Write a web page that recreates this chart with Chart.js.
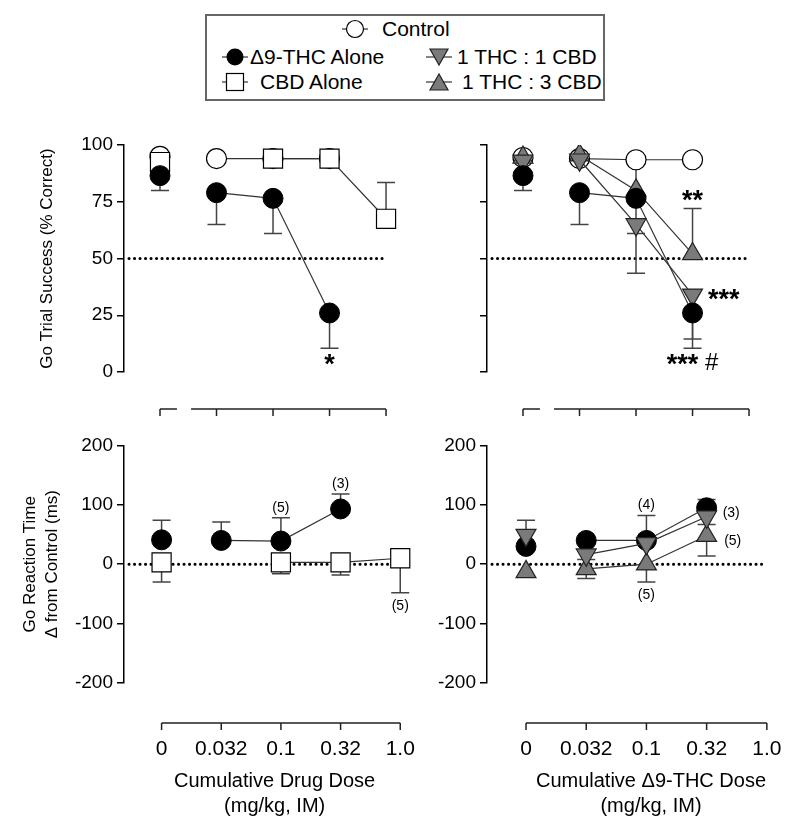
<!DOCTYPE html>
<html>
<head>
<meta charset="utf-8">
<script src="https://cdn.jsdelivr.net/npm/chart.js@4.4.1/dist/chart.umd.min.js"></script>
<style>
body { margin: 0; width: 800px; height: 831px; overflow: hidden; position: relative; background: #fff;
       font-family: "Liberation Sans", Arial, Helvetica, sans-serif; color: #000; }
canvas { position: absolute; }
#legend { position: absolute; left: 205px; top: 14px; width: 400px; height: 87px; box-sizing: border-box; border: 2px solid #666; }
.item { position: absolute; display: flex; align-items: center; font-size: 21px; white-space: nowrap; height: 24px; }
.item svg { flex: none; }
</style>
</head>
<body>

<div id="legend"></div>
<div class="item" style="left:340px;top:17px"><svg width="30" height="24"><line x1="2" y1="12" x2="28" y2="12" stroke="#333" stroke-width="1.2"/><circle cx="15" cy="12" r="8.5" fill="#fff" stroke="#000" stroke-width="1.2"/></svg><span style="margin-left:12px">Control</span></div>
<div class="item" style="left:220px;top:45px"><svg width="30" height="24"><line x1="2" y1="12" x2="28" y2="12" stroke="#333" stroke-width="1.2"/><circle cx="15" cy="12" r="8.5" fill="#000"/></svg><span style="margin-left:0px">Δ9-THC Alone</span></div>
<div class="item" style="left:220px;top:70px"><svg width="30" height="24"><line x1="2" y1="12" x2="28" y2="12" stroke="#333" stroke-width="1.2"/><rect x="6.5" y="3.5" width="17" height="17" fill="#fff" stroke="#000" stroke-width="1.2"/></svg><span style="margin-left:10px">CBD Alone</span></div>
<div class="item" style="left:424px;top:45px"><svg width="30" height="24"><line x1="2" y1="12" x2="28" y2="12" stroke="#333" stroke-width="1.2"/><polygon points="6,4 24,4 15,20" fill="#7a7a7a" stroke="#222" stroke-width="1.2"/></svg><span style="margin-left:3px">1 THC : 1 CBD</span></div>
<div class="item" style="left:424px;top:70px"><svg width="30" height="24"><line x1="2" y1="12" x2="28" y2="12" stroke="#333" stroke-width="1.2"/><polygon points="6,20 24,20 15,4" fill="#7a7a7a" stroke="#222" stroke-width="1.2"/></svg><span style="margin-left:8px">1 THC : 3 CBD</span></div>

<canvas id="tl" width="440" height="320" style="left:0;top:110px"></canvas>
<canvas id="tr" width="400" height="320" style="left:400px;top:110px"></canvas>
<canvas id="bl" width="440" height="401" style="left:0;top:430px"></canvas>
<canvas id="br" width="430" height="401" style="left:400px;top:430px"></canvas>

<script>
var FONT = '"Liberation Sans", Arial, Helvetica, sans-serif';
Chart.defaults.font.family = FONT;
Chart.defaults.color = '#000';

var doses = ['0', '0.032', '0.1', '0.32', '1.0'];
var successTicks = [0, 25, 50, 75, 100];
var rtTicks = [-200, -100, 0, 100, 200];

// Go trial success (% correct) - drug alone
var controlTL = [95, 94, 94, 94, null];
var thcTL = [86.5, 79, 76.5, 26, null];
var thcTLErr = [-6.5, -14, -15.5, -15.5, null];
var cbdTL = [92.5, null, 94, 94, 67.5];
var cbdTLErr = [null, null, null, null, 16];

// Go trial success - THC:CBD mixtures
var controlTR = [94.5, 94, 93.5, 93.5, null];
var thcTR = [86.5, 79, 76.5, 26, null];
var thcTRErr = [-6.5, -14, -15.5, -15.5, null];
var mix11TR = [93, 93.5, 65, 34, null];
var mix11TRErr = [null, null, -21.5, -19.5, null];
var mix13TR = [94.5, 95.5, 80, 52, null];
var mix13TRErr = [null, null, 14, 20, null];

// Go reaction time, change from control (ms) - drug alone
var thcBL = [41, 40, 39, 93, null];
var thcBLErr = [33, 31, 39, 25, null];
var cbdBL = [3, null, 3, 3, 10];
var cbdBLErr = [-33, null, -19, -21, -58];

// Go reaction time - mixtures
var thcBR = [30, 40, 40, 95, null];
var thcBRErr = [null, null, 42, 14, null];
var mix11BR = [49, 16, 35, 80, null];
var mix11BRErr = [25, -8, null, -13, null];
var mix13BR = [-13, -8, 0, 48, null];
var mix13BRErr = [null, -16, -30, -34, null];

var lookControl = {pointStyle: 'circle', pointRadius: 10, pointBackgroundColor: '#fff', pointBorderColor: '#000', pointBorderWidth: 1.2};
var lookThc = {pointStyle: 'circle', pointRadius: 10, pointBackgroundColor: '#000', pointBorderColor: '#000', pointBorderWidth: 1};
var lookCbd = {pointStyle: 'rect', pointRadius: 13.5, pointBackgroundColor: '#fff', pointBorderColor: '#000', pointBorderWidth: 1.2};
var lookMix11 = {pointStyle: 'triangle', pointRotation: 180, pointRadius: 11.5, pointBackgroundColor: '#7a7a7a', pointBorderColor: '#222', pointBorderWidth: 1.2};
var lookMix13 = {pointStyle: 'triangle', pointRadius: 11.5, pointBackgroundColor: '#7a7a7a', pointBorderColor: '#222', pointBorderWidth: 1.2};

function series(values, err, look, notes) {
    var ds = {
        data: values.map(function(v, i) { return {x: i, y: v}; }),
        err: err,
        notes: notes || [],
        borderColor: '#333',
        borderWidth: 1.2,
        spanGaps: false,
        pointHoverRadius: look.pointRadius,
        // axis is broken between 0 and 0.032, so no line there
        segment: {borderColor: function(c) { return c.p0DataIndex === 0 ? 'rgba(0,0,0,0)' : undefined; }}
    };
    for (var k in look) ds[k] = look[k];
    return ds;
}

// stars in bold, anything after them (the #) in regular weight
function drawStars(ctx, text, x, y, align) {
    var cut = text.lastIndexOf('*') + 1;
    var stars = text.slice(0, cut), rest = text.slice(cut);
    ctx.font = 'bold 27px ' + FONT;
    var w1 = ctx.measureText(stars).width;
    ctx.font = '24px ' + FONT;
    var w2 = ctx.measureText(rest).width;
    var x0 = align === 'center' ? x - (w1 + w2) / 2 : x;
    ctx.textAlign = 'left';
    ctx.textBaseline = 'alphabetic';
    ctx.font = 'bold 27px ' + FONT;
    ctx.fillText(stars, x0, y);
    if (rest) {
        ctx.font = '24px ' + FONT;
        ctx.fillText(rest, x0 + w1, y - 3);
    }
}

var extras = {
    id: 'extras',
    beforeDatasetsDraw: function(chart, args, o) {
        var ctx = chart.ctx, xs = chart.scales.x, ys = chart.scales.y, a = chart.chartArea;
        ctx.save();
        // dotted reference line
        ctx.strokeStyle = '#000';
        ctx.lineWidth = 3;
        ctx.lineCap = 'round';
        ctx.setLineDash([0.1, 5.4]);
        var ry = ys.getPixelForValue(o.refValue);
        ctx.beginPath();
        ctx.moveTo(a.left + 5, ry);
        ctx.lineTo(xs.getPixelForValue(o.refEnd), ry);
        ctx.stroke();
        ctx.setLineDash([]);
        ctx.lineCap = 'butt';
        // one sided error bars
        ctx.strokeStyle = '#444';
        ctx.lineWidth = 1.5;
        chart.data.datasets.forEach(function(ds) {
            if (!ds.err) return;
            ds.err.forEach(function(e, i) {
                if (e == null || ds.data[i].y == null) return;
                var px = xs.getPixelForValue(i);
                var p0 = ys.getPixelForValue(ds.data[i].y);
                var p1 = ys.getPixelForValue(ds.data[i].y + e);
                ctx.beginPath();
                ctx.moveTo(px, p0); ctx.lineTo(px, p1);
                ctx.moveTo(px - 9, p1); ctx.lineTo(px + 9, p1);
                ctx.stroke();
            });
        });
        ctx.restore();
    },
    afterDraw: function(chart, args, o) {
        var ctx = chart.ctx, xs = chart.scales.x, ys = chart.scales.y, a = chart.chartArea;
        ctx.save();
        // x axis bracket, drawn below the plot
        var by = a.bottom + o.bracketOffset;
        ctx.strokeStyle = '#222';
        ctx.lineWidth = 1.5;
        ctx.beginPath();
        if (o.bracketBreak) {
            ctx.moveTo(xs.getPixelForValue(0), by); ctx.lineTo(xs.getPixelForValue(o.bracketBreak[0]), by);
            ctx.moveTo(xs.getPixelForValue(o.bracketBreak[1]), by); ctx.lineTo(xs.getPixelForValue(doses.length - 1), by);
        } else {
            ctx.moveTo(xs.getPixelForValue(0), by); ctx.lineTo(xs.getPixelForValue(doses.length - 1), by);
        }
        doses.forEach(function(d, i) {
            var px = xs.getPixelForValue(i);
            ctx.moveTo(px, by); ctx.lineTo(px, by + 7);
        });
        ctx.stroke();

        // significance marks and n labels
        ctx.fillStyle = '#000';
        chart.data.datasets.forEach(function(ds) {
            ds.notes.forEach(function(n) {
                var v = ds.data[n.i].y, e = (ds.err && ds.err[n.i]) || 0, r = ds.pointRadius;
                var px = xs.getPixelForValue(n.i), py = ys.getPixelForValue(v);
                var top = Math.min(py - r, ys.getPixelForValue(v + Math.max(e, 0)));
                var bot = Math.max(py + r, ys.getPixelForValue(v + Math.min(e, 0)));
                if (n.text.indexOf('*') >= 0) {
                    if (n.pos === 'above') drawStars(ctx, n.text, px, top, 'center');
                    else if (n.pos === 'below') drawStars(ctx, n.text, px, bot + 25, 'center');
                    else drawStars(ctx, n.text, px + r + 4, py + 13, 'left');
                } else {
                    ctx.font = '14px ' + FONT;
                    ctx.textBaseline = 'middle';
                    if (n.pos === 'above') { ctx.textAlign = 'center'; ctx.fillText(n.text, px, top - 10); }
                    else if (n.pos === 'below') { ctx.textAlign = 'center'; ctx.fillText(n.text, px, bot + 13); }
                    else { ctx.textAlign = 'left'; ctx.fillText(n.text, px + r + 6, py + 5); }
                }
            });
        });
        ctx.restore();
    }
};

function yScale(ticks, showLabels, title) {
    return {
        min: ticks[0],
        max: ticks[ticks.length - 1],
        afterBuildTicks: function(s) { s.ticks = ticks.map(function(v) { return {value: v}; }); },
        afterFit: function(s) { s.width = title ? 124 : 87; },
        border: {display: true, color: '#000', width: 1.5},
        grid: {display: true, drawOnChartArea: false, drawTicks: true, tickLength: 7, color: '#000', lineWidth: 1.5},
        ticks: {display: showLabels, color: '#000', font: {size: 19}, padding: 4},
        title: title ? {display: true, text: title.text, color: '#000',
                        font: {size: 17, lineHeight: title.lh}, padding: {top: title.pad, bottom: 0}} : {display: false}
    };
}

function xScale(min, max, height, title) {
    return {
        type: 'linear',
        min: min,
        max: max,
        afterBuildTicks: function(s) { s.ticks = doses.map(function(d, i) { return {value: i}; }); },
        afterFit: function(s) { s.height = height; s.paddingLeft = 0; s.paddingRight = 0; },
        border: {display: false},
        // tick marks are hidden; tickLength only pushes the labels down to sit under the bracket
        grid: {display: false, drawTicks: true, tickLength: 50},
        ticks: {display: !!title, autoSkip: false, maxRotation: 0, padding: 4, color: '#000',
                font: {size: 21}, callback: function(v) { return doses[v]; }},
        title: title ? {display: true, text: title, color: '#000', font: {size: 20, lineHeight: 1.25},
                        padding: {top: 0, bottom: 12}} : {display: false}
    };
}

function panel(id, datasets, o) {
    return new Chart(document.getElementById(id), {
        type: 'line',
        data: {datasets: datasets},
        options: {
            animation: false,
            responsive: false,
            events: [],
            layout: {padding: {top: o.padTop, right: o.padRight, left: 0, bottom: 0}},
            plugins: {
                legend: {display: false},
                tooltip: {enabled: false},
                extras: {refValue: o.refValue, refEnd: o.refEnd, bracketOffset: o.bracketOffset, bracketBreak: o.bracketBreak}
            },
            scales: {x: o.x, y: o.y}
        },
        plugins: [extras]
    });
}

panel('tl', [
    series(thcTL, thcTLErr, lookThc, [{i: 3, text: '*', pos: 'below'}]),
    series(cbdTL, cbdTLErr, lookCbd),
    series(controlTL, null, lookControl)
], {
    padTop: 35, padRight: 37, refValue: 50, refEnd: 3.95, bracketOffset: 37, bracketBreak: [0.3, 0.55],
    x: xScale(-0.637, 4.3, 58, null),
    y: yScale(successTicks, true, {text: 'Go Trial Success (% Correct)', lh: 1.2, pad: 37})
});

panel('tr', [
    series(thcTR, thcTRErr, lookThc, [{i: 3, text: '*** #', pos: 'below'}]),
    series(mix11TR, mix11TRErr, lookMix11, [{i: 3, text: '***', pos: 'right'}]),
    series(mix13TR, mix13TRErr, lookMix13, [{i: 3, text: '**', pos: 'above'}]),
    series(controlTR, null, lookControl)
], {
    padTop: 35, padRight: 34, refValue: 50, refEnd: 3.93, bracketOffset: 37, bracketBreak: [0.3, 0.55],
    x: xScale(-0.637, 4.3, 58, null),
    y: yScale(successTicks, false, null)
});

panel('bl', [
    series(thcBL, thcBLErr, lookThc, [{i: 2, text: '(5)', pos: 'above'}, {i: 3, text: '(3)', pos: 'above'}]),
    series(cbdBL, cbdBLErr, lookCbd, [{i: 4, text: '(5)', pos: 'below'}])
], {
    padTop: 13, padRight: 12, refValue: 0, refEnd: 3.84, bracketOffset: 40, bracketBreak: null,
    x: xScale(-0.63, 4.42, 148, ['Cumulative Drug Dose', '(mg/kg, IM)']),
    y: yScale(rtTicks, true, {text: ['Go Reaction Time', 'Δ from Control (ms)'], lh: 1.3, pad: 19})
});

panel('br', [
    series(mix11BR, mix11BRErr, lookMix11),
    series(mix13BR, mix13BRErr, lookMix13, [{i: 2, text: '(5)', pos: 'below'}, {i: 3, text: '(5)', pos: 'right'}]),
    series(thcBR, thcBRErr, lookThc, [{i: 2, text: '(4)', pos: 'above'}, {i: 3, text: '(3)', pos: 'right'}])
], {
    padTop: 13, padRight: 15, refValue: 0, refEnd: 3.94, bracketOffset: 40, bracketBreak: null,
    x: xScale(-0.648, 4.8, 148, ['Cumulative Δ9-THC Dose', '(mg/kg, IM)']),
    y: yScale(rtTicks, true, null)
});
</script>
</body>
</html>
